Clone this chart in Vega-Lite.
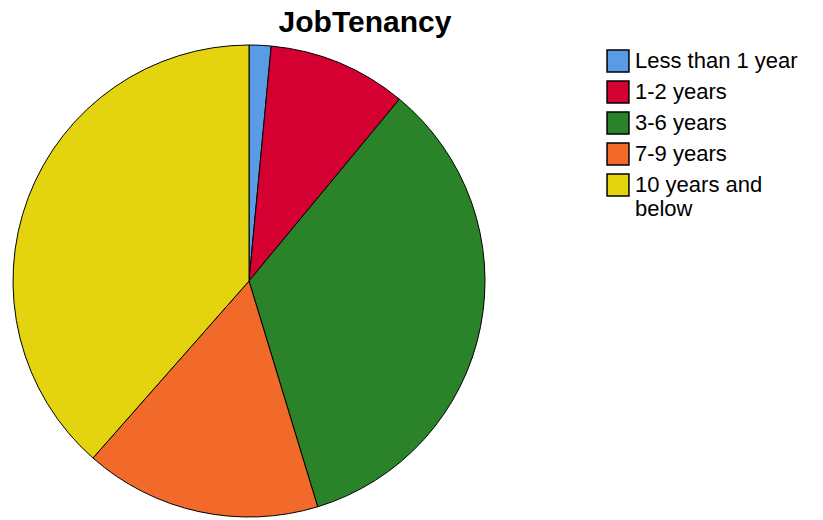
{
  "$schema": "https://vega.github.io/schema/vega-lite/v6.json",
  "autosize": {"type": "none"},
  "width": 472,
  "height": 472,
  "padding": {"left": 13, "top": 45, "right": 338, "bottom": 3},
  "background": "white",
  "title": {
    "text": "JobTenancy",
    "font": "Liberation Sans",
    "fontSize": 30,
    "fontWeight": "bold",
    "color": "#000000",
    "anchor": "middle",
    "frame": "group",
    "dx": 116,
    "offset": 5
  },
  "data": {
    "values": [
      {"tenure": "Less than 1 year", "idx": 1, "percent": 1.5},
      {"tenure": "1-2 years", "idx": 2, "percent": 9.5},
      {"tenure": "3-6 years", "idx": 3, "percent": 34.3},
      {"tenure": "7-9 years", "idx": 4, "percent": 16.2},
      {"tenure": "10 years and below", "idx": 5, "percent": 38.5}
    ]
  },
  "mark": {"type": "arc", "stroke": "#000000", "strokeWidth": 1},
  "encoding": {
    "theta": {"field": "percent", "type": "quantitative", "stack": true},
    "order": {"field": "idx", "type": "quantitative"},
    "color": {
      "field": "tenure",
      "type": "nominal",
      "scale": {
        "domain": ["Less than 1 year", "1-2 years", "3-6 years", "7-9 years", "10 years and below"],
        "range": ["#5A9BE6", "#D50032", "#2A8229", "#F26A2A", "#E3D40F"]
      },
      "legend": {
        "title": null,
        "orient": "right",
        "offset": 117,
        "padding": 4,
        "symbolType": "square",
        "symbolSize": 480,
        "symbolStrokeColor": "#000000",
        "symbolStrokeWidth": 1.5,
        "symbolOpacity": 1,
        "labelFont": "Liberation Sans",
        "labelFontSize": 22,
        "labelColor": "#000000",
        "labelLimit": 300,
        "labelOffset": 5,
        "rowPadding": 3,
        "labelExpr": "datum.label == '10 years and below' ? ['10 years and', 'below'] : datum.label"
      }
    }
  }
}
